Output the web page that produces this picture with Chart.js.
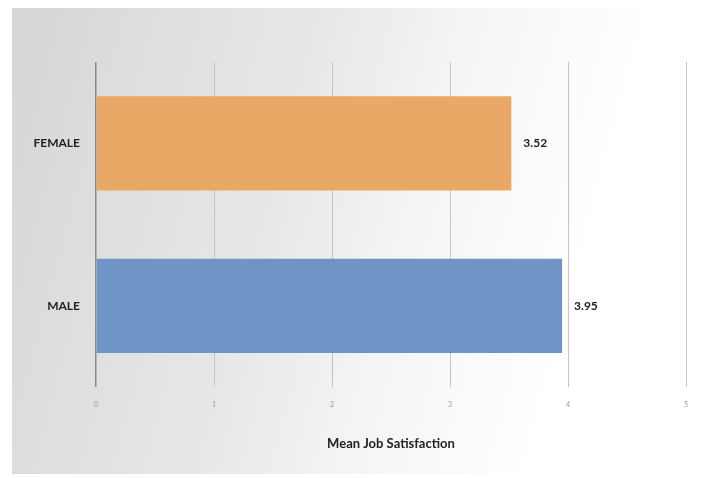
<!DOCTYPE html>
<html>
<head>
<meta charset="utf-8">
<script src="https://cdn.jsdelivr.net/npm/chart.js@4/dist/chart.umd.min.js"></script>
<style>
  html, body { margin: 0; padding: 0; background: #fff; }
  #wrap { position: relative; width: 710px; height: 478px; }
  #bg {
    position: absolute; left: 12px; top: 8px; width: 698px; height: 466px;
    background: linear-gradient(105deg, #d6d6d6 0%, #e6e6e6 35%, #f7f7f7 60%, #ffffff 78%);
  }
  #chart { position: absolute; left: 0; top: 0; }
</style>
</head>
<body>
<div id="wrap">
  <div id="bg"></div>
  <canvas id="chart" width="710" height="478"></canvas>
</div>
<script>
const categories = ['FEMALE', 'MALE'];
const satisfaction = [3.52, 3.95];
const barColors = ['#E9A866', '#6F95C6'];
const xTicks = [0, 1, 2, 3, 4, 5];

// prints the value just to the right of each bar
const valueLabels = {
  id: 'valueLabels',
  afterDatasetsDraw(chart) {
    const ctx = chart.ctx;
    const meta = chart.getDatasetMeta(0);
    ctx.save();
    ctx.font = 'bold 12px Lato';
    ctx.fillStyle = '#222';
    ctx.textBaseline = 'middle';
    meta.data.forEach((bar, i) => {
      ctx.fillText(satisfaction[i].toFixed(2), bar.x + 12, bar.y);
    });
    ctx.restore();
  }
};

new Chart(document.getElementById('chart'), {
  type: 'bar',
  data: {
    labels: categories,
    datasets: [{
      data: satisfaction,
      backgroundColor: barColors,
      barPercentage: 0.58,
      categoryPercentage: 1
    }]
  },
  options: {
    indexAxis: 'y',
    responsive: false,
    animation: false,
    layout: { padding: { left: 0, right: 24, top: 62, bottom: 14 } },
    plugins: {
      legend: { display: false },
      tooltip: { enabled: false }
    },
    scales: {
      x: {
        min: 0,
        max: 5,
        afterBuildTicks: axis => { axis.ticks = xTicks.map(v => ({ value: v })); },
        afterFit: axis => { axis.height = 77; },
        border: { display: false },
        grid: {
          drawTicks: false,
          color: ctx => ctx.index === 0 ? '#8a8a8a' : '#c4c4c4',
          lineWidth: ctx => ctx.index === 0 ? 1.5 : 1
        },
        ticks: { padding: 14, color: '#999', font: { size: 7, family: 'Lato' } },
        title: {
          display: true,
          text: 'Mean Job Satisfaction',
          color: '#222',
          font: { size: 13, weight: 'bold', family: 'Lato' },
          padding: { top: 16, bottom: 12 }
        }
      },
      y: {
        afterFit: axis => { axis.width = 96; },
        border: { display: false },
        grid: { display: false },
        ticks: { padding: 8, color: '#222', font: { size: 12, weight: 'bold', family: 'Lato' } }
      }
    }
  },
  plugins: [valueLabels]
});
</script>
</body>
</html>
